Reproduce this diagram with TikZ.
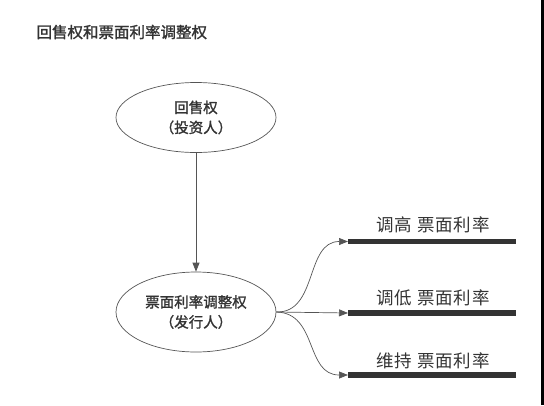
\documentclass[tikz,border=0pt]{standalone}
\usepackage{fontspec}
\setmainfont{Noto Sans CJK SC}
\newfontfamily\cjkbold{Noto Sans CJK SC}[FakeBold=1.5]
\newfontfamily\cjklbl{Noto Sans CJK SC}[LetterSpace=5]
\usetikzlibrary{arrows.meta,shapes.geometric}
\definecolor{linegray}{HTML}{555555}
\definecolor{txtgray}{HTML}{333333}
\tikzset{
  x=1pt,y=-1pt,
  oval/.style={draw=linegray,line width=0.7pt,ellipse,minimum width=160pt,inner sep=0pt,align=center,font=\fontsize{14.5}{20}\cjkbold,text=txtgray},
  conn/.style={draw=linegray,line width=0.7pt,-{Triangle[length=9pt,width=7pt]}},
  bar/.style={draw=txtgray,line width=5.5pt},
  lbl/.style={font=\fontsize{17.5}{20}\cjklbl,text=txtgray}
}
\begin{document}
\begin{tikzpicture}
\useasboundingbox (0,0) rectangle (544,405);
\fill[black] (541,0) rectangle (544,405);
\node[anchor=west,font=\fontsize{15.5}{18}\cjkbold,text=txtgray] (title) at (33,32) {回售权和票面利率调整权};
\node[oval,minimum height=70pt] (put) at (196,117.5) {回售权\\（投资人）};
\node[oval,minimum height=80pt] (adj) at (196,312) {票面利率调整权\\（发行人）};
\draw[conn] (put) -- (adj);
\coordinate (h1) at (348,241.5);
\coordinate (h2) at (348,313);
\coordinate (h3) at (348,375);
\coordinate (e1) at (516,241.5);
\coordinate (e2) at (516,313);
\coordinate (e3) at (516,375);
\draw[bar] (h1) -- (e1);
\draw[bar] (h2) -- (e2);
\draw[bar] (h3) -- (e3);
\draw[conn] (adj.east) .. controls (318,313) and (305,241.5) .. (h1);
\draw[conn] (adj.east) -- (h2);
\draw[conn] (adj.east) .. controls (318,313) and (305,375) .. (h3);
\node[lbl] (l1) at (433,225) {调高 票面利率};
\node[lbl] (l2) at (433,298) {调低 票面利率};
\node[lbl] (l3) at (433,361) {维持 票面利率};
\end{tikzpicture}
\end{document}
